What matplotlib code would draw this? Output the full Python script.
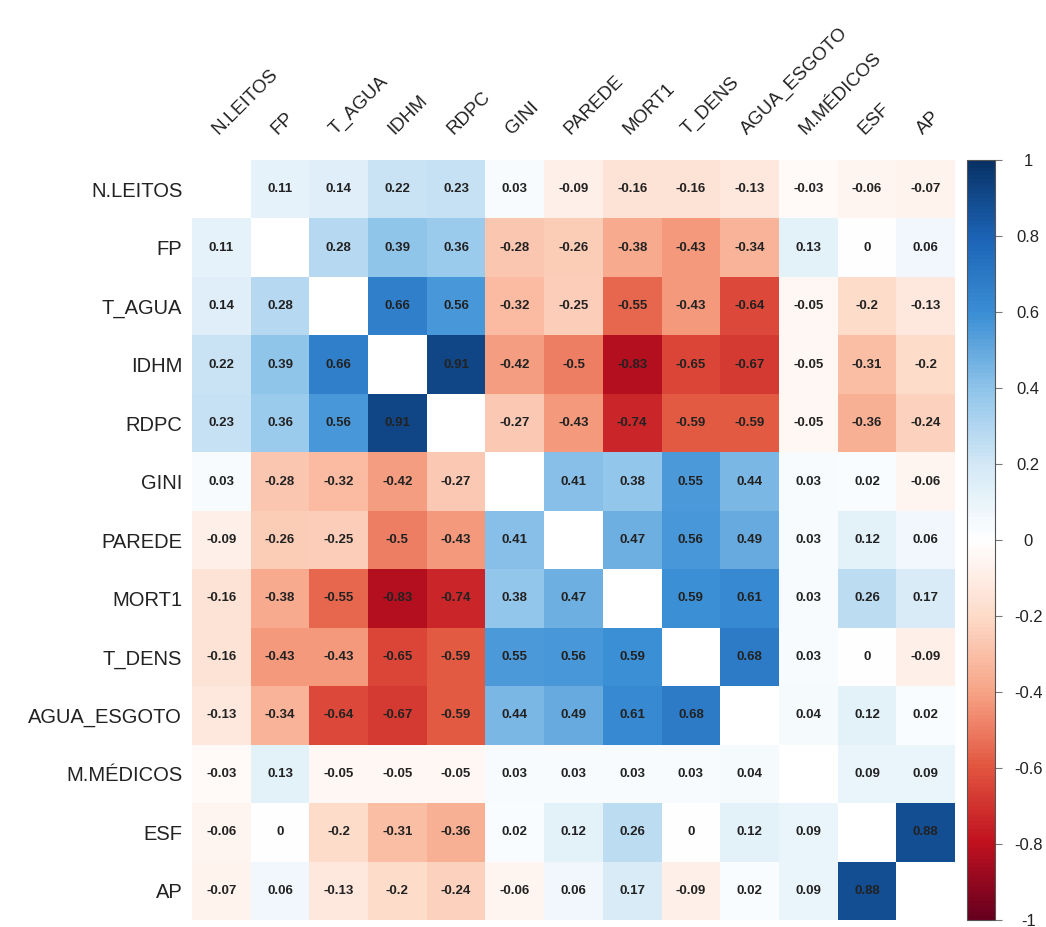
import numpy as np
import matplotlib
matplotlib.use("Agg")
import matplotlib.pyplot as plt
from matplotlib.colors import LinearSegmentedColormap

matplotlib.rcParams['font.family'] = ['Liberation Sans', 'DejaVu Sans']

labels = ["N.LEITOS", "FP", "T_AGUA", "IDHM", "RDPC", "GINI", "PAREDE",
          "MORT1", "T_DENS", "AGUA_ESGOTO", "M.MÉDICOS", "ESF", "AP"]

# lower triangle of the correlation matrix, row by row (diagonal left out)
lower = [
    [],
    [0.11],
    [0.14, 0.28],
    [0.22, 0.39, 0.66],
    [0.23, 0.36, 0.56, 0.91],
    [0.03, -0.28, -0.32, -0.42, -0.27],
    [-0.09, -0.26, -0.25, -0.5, -0.43, 0.41],
    [-0.16, -0.38, -0.55, -0.83, -0.74, 0.38, 0.47],
    [-0.16, -0.43, -0.43, -0.65, -0.59, 0.55, 0.56, 0.59],
    [-0.13, -0.34, -0.64, -0.67, -0.59, 0.44, 0.49, 0.61, 0.68],
    [-0.03, 0.13, -0.05, -0.05, -0.05, 0.03, 0.03, 0.03, 0.03, 0.04],
    [-0.06, 0, -0.2, -0.31, -0.36, 0.02, 0.12, 0.26, 0, 0.12, 0.09],
    [-0.07, 0.06, -0.13, -0.2, -0.24, -0.06, 0.06, 0.17, -0.09, 0.02, 0.09, 0.88],
]

cbar_ticks = [-1, -0.8, -0.6, -0.4, -0.2, 0, 0.2, 0.4, 0.6, 0.8, 1]

n = len(labels)
corr = np.full((n, n), np.nan)
for i, row in enumerate(lower):
    for j, v in enumerate(row):
        corr[i, j] = v
        corr[j, i] = v

# corrplot style RdBu palette, a bit more vivid like the reference
cmap = LinearSegmentedColormap.from_list("corr_rdbu", [
    "#67001F", "#C0111F", "#E2553F", "#F7A486", "#FDDBC9", "#FFFFFF",
    "#D3E8F6", "#8FC4EA", "#3A8ED4", "#1C63B6", "#083266"], N=200)
cmap.set_bad("white")

W, H = 1046, 927
fig = plt.figure(figsize=(W / 100, H / 100), dpi=100)
ax = fig.add_axes([192 / W, 1 - 920 / H, 763 / W, 760 / H])
cax = fig.add_axes([967 / W, 1 - 920 / H, 28 / W, 760 / H])

mesh = ax.pcolormesh(np.ma.masked_invalid(corr), cmap=cmap, vmin=-1, vmax=1)
ax.set_xlim(0, n)
ax.set_ylim(n, 0)

for i in range(n):
    for j in range(n):
        if i == j:
            continue
        v = corr[i, j]
        txt = "0" if v == 0 else ("%g" % v)
        ax.text(j + 0.5, i + 0.5, txt, ha="center", va="center",
                fontsize=9.5, fontweight="bold", color="#222222")

ax.set_yticks(np.arange(n) + 0.5)
ax.set_yticklabels(labels, fontsize=14.5, color="#222222")
ax.xaxis.tick_top()
ax.set_xticks(np.arange(n) + 0.5)
ax.set_xticklabels(labels, fontsize=13.5, color="#222222", rotation=45,
                   ha="left", va="bottom", rotation_mode="anchor")
ax.tick_params(axis="both", length=0)
ax.tick_params(axis="y", pad=7)
ax.tick_params(axis="x", pad=16)
for s in ax.spines.values():
    s.set_visible(False)

cb = fig.colorbar(mesh, cax=cax, ticks=cbar_ticks)
cb.outline.set_linewidth(0.8)
cb.outline.set_edgecolor("#555555")
cax.set_yticklabels(["%g" % t for t in cbar_ticks])
cax.tick_params(axis="y", length=5, width=0.8, color="#777777",
                labelsize=12, labelcolor="#222222", pad=19)
for t in cax.get_yticklabels():
    t.set_horizontalalignment("center")

fig.savefig("out.png", dpi=100)
